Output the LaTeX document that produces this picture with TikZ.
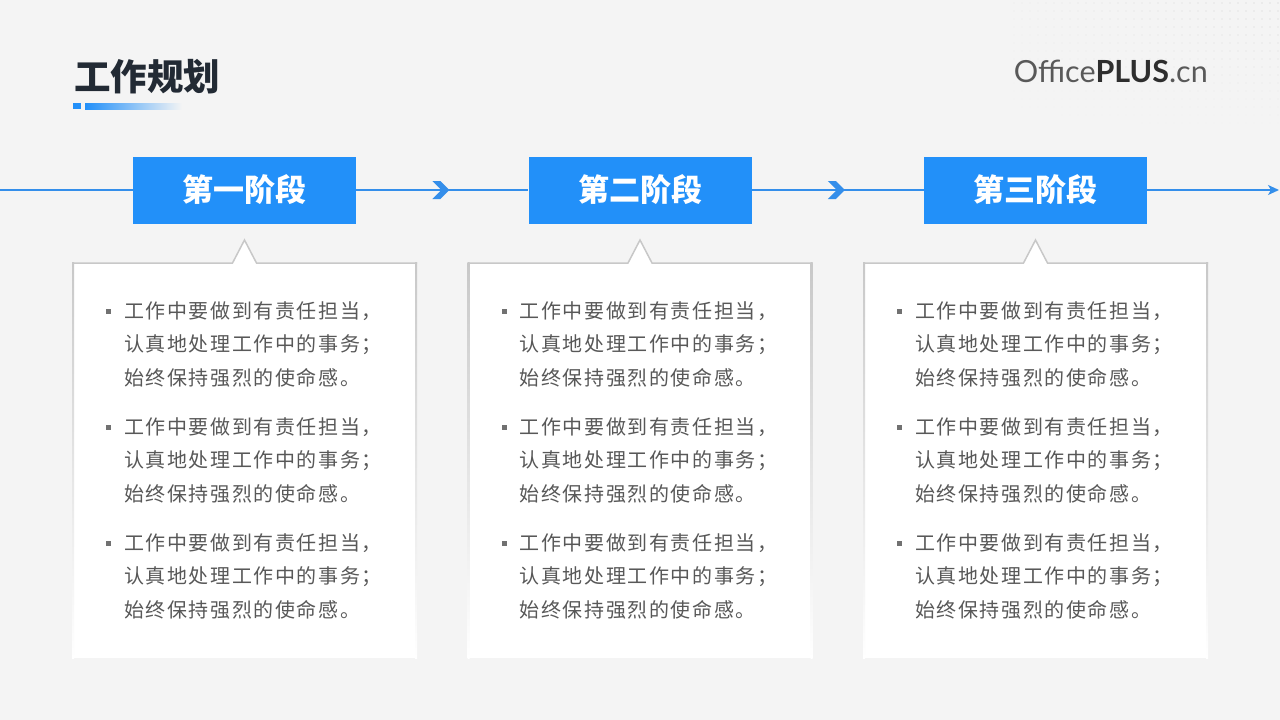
\documentclass[tikz,border=0pt]{standalone}
\usepackage{fontspec}
\setmainfont{Lato}
\newfontfamily\cjk{Noto Sans CJK SC}
\newfontfamily\cjkbody{Noto Sans CJK SC}[LetterSpace=8]
\usetikzlibrary{arrows.meta, positioning}

\definecolor{bg}{HTML}{F4F4F4}
\definecolor{stageblue}{HTML}{2290F9}
\definecolor{lineblue}{HTML}{348EEA}
\definecolor{titlegray}{HTML}{222A34}
\definecolor{bodygray}{HTML}{585858}
\definecolor{cardline}{HTML}{C8C8C8}

\begin{document}
\begin{tikzpicture}[x=1pt, y=-1pt,
    stage/.style = {fill=stageblue, text=white, minimum width=223pt, minimum height=67pt,
        inner sep=0pt, font=\cjk\bfseries\fontsize{31}{33}\selectfont},
    flow/.style = {lineblue, line width=1.6pt},
    para/.style = {anchor=base west, inner sep=0pt, text=bodygray,
        font=\cjkbody\fontsize{20}{22}\selectfont},
    dotmark/.style = {fill=bodygray!85, minimum size=5pt, inner sep=0pt}]
    \fill[bg] (0,0) rectangle (1280,720);
    \useasboundingbox (0,0) rectangle (1280,720);
    % faint dots, top right
    \foreach \dx in {0,...,33}
        \foreach \dy in {0,...,16} {
            \pgfmathsetmacro\op{0.08*(1-\dy/17)*(0.3+0.7*\dx/33)}
            \fill[black, opacity=\op] (1014+\dx*8, 3+\dy*8) circle (0.9);
        }
    % title
    \node[anchor=west, inner sep=0pt, text=titlegray, font=\cjk\bfseries\fontsize{36.5}{40}\selectfont]
        (title) at (74,77) {工作规划};
    \fill[stageblue] (73,103) rectangle (81,109);
    \shade[left color=stageblue, right color=bg] (85,103) rectangle (182,109);
    \node[anchor=base east, inner sep=0pt, text=black!65, font=\fontsize{30.5}{34}\selectfont]
        (logo) at (1208,82) {Office\textcolor{black!82}{\textbf{PLUS}}.cn};
    % stages
    \foreach \n/\x/\t in {s1/244.5/第一阶段, s2/640/第二阶段, s3/1035.5/第三阶段}
        \node[stage] (\n) at (\x,190) {\t};
    \coordinate (lstart) at (0,190);
    \coordinate (lend) at (1279,190);
    \draw[flow] (lstart) -- (s1);
    \draw[flow] (s1) -- coordinate (c1) (s2);
    \draw[flow] (s2) -- coordinate (c2) (s3);
    \draw[flow, -{Stealth[length=11pt, width=10pt, inset=3pt]}] (s3) -- (lend);
    \foreach \c in {c1,c2}
        \fill[lineblue] ([shift={(-10,-9)}]\c) -- ([shift={(-2,-9)}]\c) -- ([shift={(7,0)}]\c)
            -- ([shift={(-2,9)}]\c) -- ([shift={(-10,9)}]\c) -- ([shift={(-1,0)}]\c) -- cycle;
    % cards
    \foreach \cx [count=\i] in {244.5,640,1035.5} {
        \fill[white] (\cx-171.5,263) rectangle (\cx+171.5,658);
        \fill[white] (\cx-12,264) -- (\cx,240) -- (\cx+12,264) -- cycle;
        \shade[top color=cardline, bottom color=white] (\cx-172.5,262.5) rectangle (\cx-170.5,658);
        \shade[top color=cardline, bottom color=white] (\cx+170.5,262.5) rectangle (\cx+172.5,658);
        \draw[cardline, line width=1.5pt] (\cx-172.5,263) -- (\cx-12,263) -- (\cx,240)
            -- (\cx+12,263) -- (\cx+172.5,263);
        \foreach \g in {0,1,2} {
            \node[dotmark] (b\i\g) at (\cx-136,311.5+\g*116) {};
            \foreach \l/\s in {0/工作中要做到有责任担当，, 1/认真地处理工作中的事务；, 2/始终保持强烈的使命感。}
                \node[para] (t\i\g\l) at (\cx-120.5,318+\g*116+\l*33.5) {\s};
        }
    }
\end{tikzpicture}
\end{document}
